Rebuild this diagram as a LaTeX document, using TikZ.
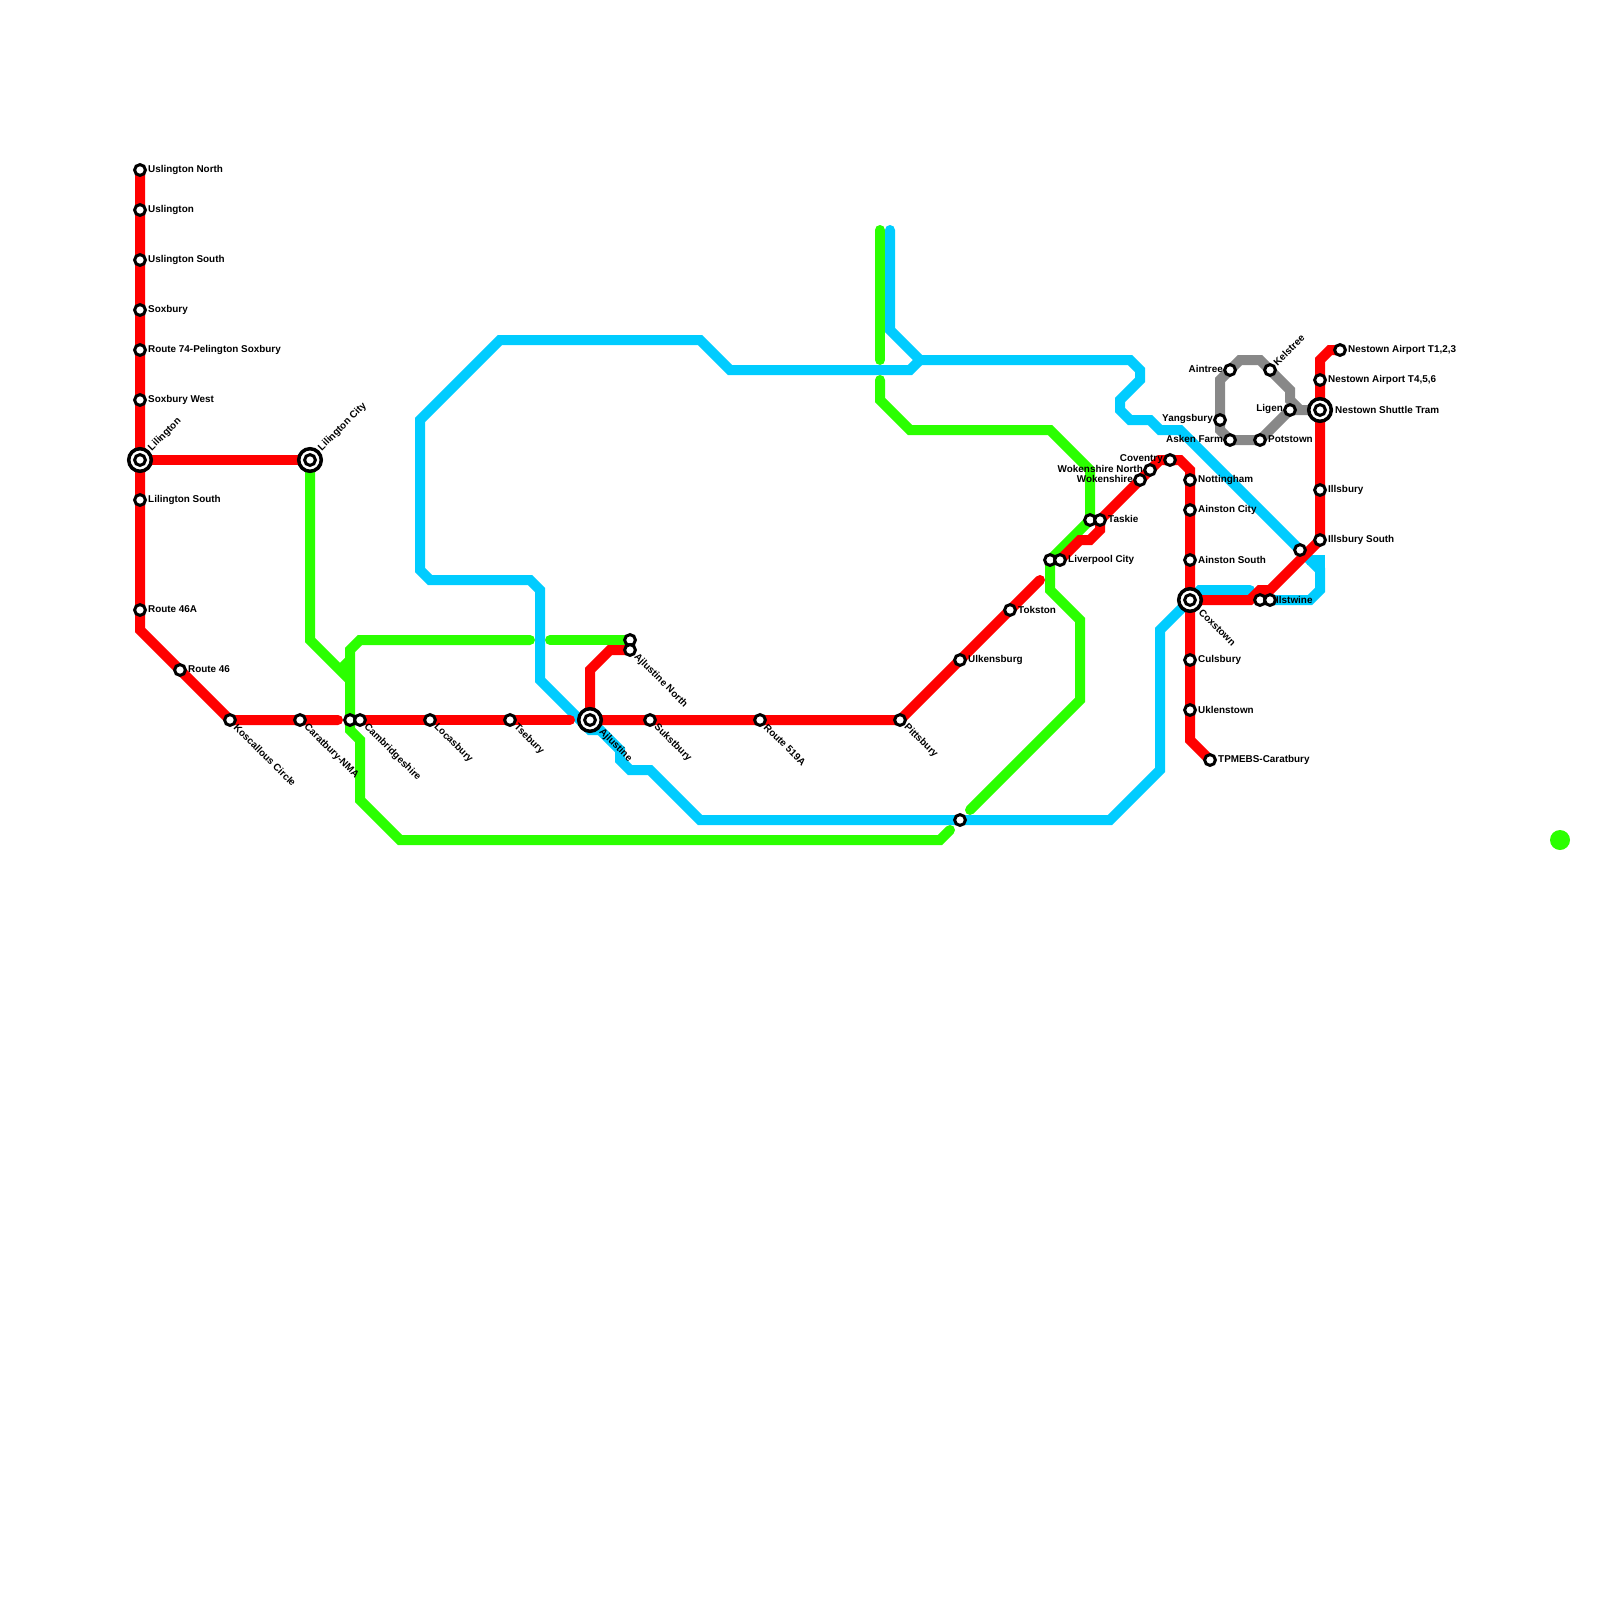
\documentclass[tikz,border=0pt]{standalone}
\usepackage{fontspec}
\setmainfont{Liberation Sans}
\definecolor{mred}{HTML}{FF0000}
\definecolor{mgreen}{HTML}{2BFF00}
\definecolor{mblue}{HTML}{00CCFF}
\definecolor{mgray}{HTML}{888888}
\tikzset{
  x=1pt,y=-1pt,
  mline/.style={line width=10pt,line cap=round,line join=miter,miter limit=10},
  sta/.style={circle,draw=black,fill=white,line width=3pt,minimum size=10.8pt,inner sep=0pt},
  hubo/.style={circle,draw=black,fill=white,line width=3.5pt,minimum size=22.6pt,inner sep=0pt},
  hubi/.style={circle,draw=black,fill=white,line width=3pt,minimum size=10.8pt,inner sep=0pt},
  lab/.style={font=\bfseries\fontsize{9.9}{10}\selectfont,inner sep=0pt,text=black},
  labr/.style={lab,anchor=west},
  labl/.style={lab,anchor=east},
  labu/.style={lab,anchor=west,rotate=45},
  labd/.style={lab,anchor=west,rotate=-45},
}
\begin{document}
\begin{tikzpicture}
\useasboundingbox (0,0) rectangle (1600,1600);
% station coordinates
\foreach \n/\x/\y in {usn/140/170,usl/140/210,uss/140/260,sox/140/310,r74/140/350,sow/140/400,lil/140/460,lis/140/500,r46a/140/610,r46/180/670,kos/230/720,car/300/720,gcr/350/720,cam/360/720,loc/430/720,tse/510/720,ajl/590/720,suk/650/720,r519/760/720,pit/900/720,ulk/960/660,tok/1010/610,lic/310/460,ajg/630/640,ajn/630/650,bst/960/820,gli/1050/560,liv/1060/560,gta/1090/520,tas/1100/520,wok/1140/480,won/1150/470,cov/1170/460,not/1190/480,aic/1190/510,ais/1190/560,cox/1190/600,cul/1190/660,ukl/1190/710,tpm/1210/760,il1/1260/600,ils/1270/600,bun/1300/550,isu/1320/540,ill/1320/490,nes/1320/410,t45/1320/380,t12/1340/350,ain/1230/370,kel/1270/370,lig/1290/410,yan/1220/420,ask/1230/440,pot/1260/440}
  {\coordinate (\n) at (\x,\y);}
% blue
\draw[mline,mblue] (890,230) -- (890,330) -- (920,360) -- (1130,360) -- (1140,370) -- (1140,380) -- (1120,400) -- (1120,410) -- (1130,420) -- (1150,420) -- (1160,430) -- (1180,430) -- (bun) -- (1320,570) -- (1320,590) -- (1310,600) -- (ils);
\draw[mline,mblue,line cap=rect] (1312,560) -- (1320,560) -- (1320,570);
\draw[mline,mblue] (920,360) -- (910,370) -- (730,370) -- (700,340) -- (500,340) -- (420,420) -- (420,570) -- (430,580) -- (530,580) -- (540,590) -- (540,680) -- (590,730) -- (600,730) -- (620,750) -- (620,760) -- (630,770) -- (650,770) -- (700,820) -- (bst) -- (1110,820) -- (1160,770) -- (1160,630) -- (cox) -- (1200,590) -- (1250,590);
% green
\draw[mline,mgreen] (lic) -- (310,640) -- (350,680);
\draw[mline,mgreen,line cap=butt] (340,670) -- (350,660);
\draw[mline,mgreen] (530,640) -- (360,640) -- (350,650) -- (gcr) -- (350,730) -- (360,740) -- (360,800) -- (400,840) -- (940,840) -- (950,830);
\draw[mline,mgreen] (550,640) -- (ajg);
\draw[mline,mgreen] (880,230) -- (880,360);
\draw[mline,mgreen] (880,380) -- (880,400) -- (910,430) -- (1050,430) -- (1090,470) -- (gta) -- (gli) -- (1050,590) -- (1080,620) -- (1080,700) -- (970,810);
\fill[mgreen] (1560,840) circle (10);
% gray
\draw[mline,mgray] (nes) -- (1300,410) -- (1290,400) -- (1290,390) -- (kel) -- (1260,360) -- (1240,360) -- (ain) -- (1220,380) -- (yan) -- (1220,430) -- (ask) -- (pot) -- (lig) -- (1300,410);
% red
\draw[mline,mred] (usn) -- (lil) -- (lis) -- (r46a) -- (140,630) -- (r46) -- (kos) -- (car) -- (338,720);
\draw[mline,mred] (lil) -- (lic);
\draw[mline,mred] (cam) -- (570,720);
\draw[mline,mred] (ajl) -- (900,720) -- (1040,580);
\draw[mline,mred] (ajl) -- (590,670) -- (610,650) -- (ajn);
\draw[mline,mred] (liv) -- (1080,540) -- (1090,540) -- (1100,530) -- (tas) -- (1160,460) -- (1180,460) -- (1190,470) -- (1190,740) -- (tpm);
\draw[mline,mred] (cox) -- (1250,600) -- (1260,590) -- (1270,590) -- (isu) -- (1320,360) -- (1330,350) -- (t12);
% labels
\foreach \n/\t in {usn/Uslington North,usl/Uslington,uss/Uslington South,sox/Soxbury,r74/Route 74-Pelington Soxbury,sow/Soxbury West,lis/Lilington South,r46a/Route 46A,r46/Route 46,ulk/Ulkensburg,tok/Tokston,liv/Liverpool City,not/Nottingham,aic/Ainston City,ais/Ainston South,cul/Culsbury,ukl/Uklenstown,tpm/TPMEBS-Caratbury,isu/Illsbury South,ill/Illsbury,t45/Nestown Airport T4{,}5{,}6,t12/Nestown Airport T1{,}2{,}3,pot/Potstown}
  {\node[labr] (l\n) at ([shift={(8,-0.5)}]\n) {\t};}
\node[labr] (lils) at ([shift={(6,-0.5)}]ils) {Ilstwine};
\node[labr] (ltas) at ([shift={(8,-1)}]tas) {Taskie};
\node[labr] (lnes) at ([shift={(15,-0.5)}]nes) {Nestown Shuttle Tram};
\foreach \n/\t in {ain/Aintree,yan/Yangsbury,ask/Asken Farm,lig/Ligen,cov/Coventry,won/Wokenshire North,wok/Wokenshire}
  {\node[labl] (l\n) at ([shift={(-7,-1)}]\n) {\t};}
\foreach \n/\t in {kos/Koscallous Circle,car/Caratbury-NMA,cam/Cambridgeshire,loc/Locasbury,tse/Tsebury,suk/Sukstbury,r519/Route 519A,pit/Pittsbury,ajn/Ajlustine North}
  {\node[labd] (l\n) at ([shift={(5.5,5.5)}]\n) {\t};}
\node[labd] (lajl) at ([shift={(10.5,10.5)}]ajl) {Ajlustine};
\node[labd] (lcox) at ([shift={(10.5,10.5)}]cox) {Coxstown};
\node[labu] (llil) at ([shift={(10,-10.5)}]lil) {Lilington};
\node[labu] (llic) at ([shift={(10,-10.5)}]lic) {Lilington City};
\node[labu] (lkel) at ([shift={(5,-6)}]kel) {Kelstree};
% stations
\foreach \n in {usn,usl,uss,sox,r74,sow,lis,r46a,r46,kos,car,gcr,cam,loc,tse,suk,r519,pit,ulk,tok,ajg,ajn,bst,gli,liv,gta,tas,wok,won,cov,not,aic,ais,cul,ukl,tpm,il1,ils,bun,isu,ill,t45,t12,ain,kel,lig,yan,ask,pot}
  {\node[sta] (s\n) at (\n) {};}
\foreach \n in {lil,lic,ajl,cox,nes}
  {\node[hubo] (h\n) at (\n) {}; \node[hubi] (i\n) at (\n) {};}
\end{tikzpicture}
\end{document}
